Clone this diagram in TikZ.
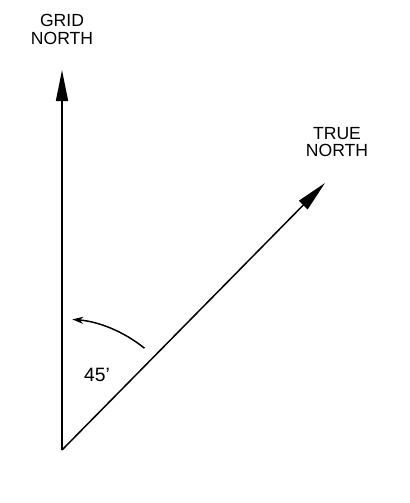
\documentclass[tikz,border=0pt]{standalone}
\usepackage{fontspec}
\setmainfont{Liberation Sans}
\usetikzlibrary{arrows.meta, positioning}

\begin{document}
\begin{tikzpicture}[
    font=\fontsize{10}{9.8}\selectfont,
    north/.style={line width=0.85pt, -{Triangle[length=0.62cm, width=0.24cm]}},
    turn/.style={line width=0.85pt, -{Stealth[length=0.22cm, width=0.14cm]}},
    lbl/.style={align=center, inner sep=1pt},
  ]
  \useasboundingbox (-1.24,-1.06) rectangle (6.96,9.0);
  \coordinate (o) at (0,0);
  \coordinate (gn) at (0,7.6);
  \coordinate (tn) at (5.26,5.34);
  \draw[north] (o) -- (gn);
  \draw[north] (o) -- (tn);
  \node[lbl] (gridlbl) at (0,8.41) {GRID\\NORTH};
  \node[lbl] (truelbl) at (5.5,6.16) {TRUE\\NORTH};
  % angle between the two norths
  \draw[turn] ([shift={(51:2.62)}]o) arc[start angle=51, end angle=85.5, radius=2.62];
  \node (ang) at (0.7,1.5) {\fontsize{11}{11}\selectfont 45'};
\end{tikzpicture}
\end{document}
